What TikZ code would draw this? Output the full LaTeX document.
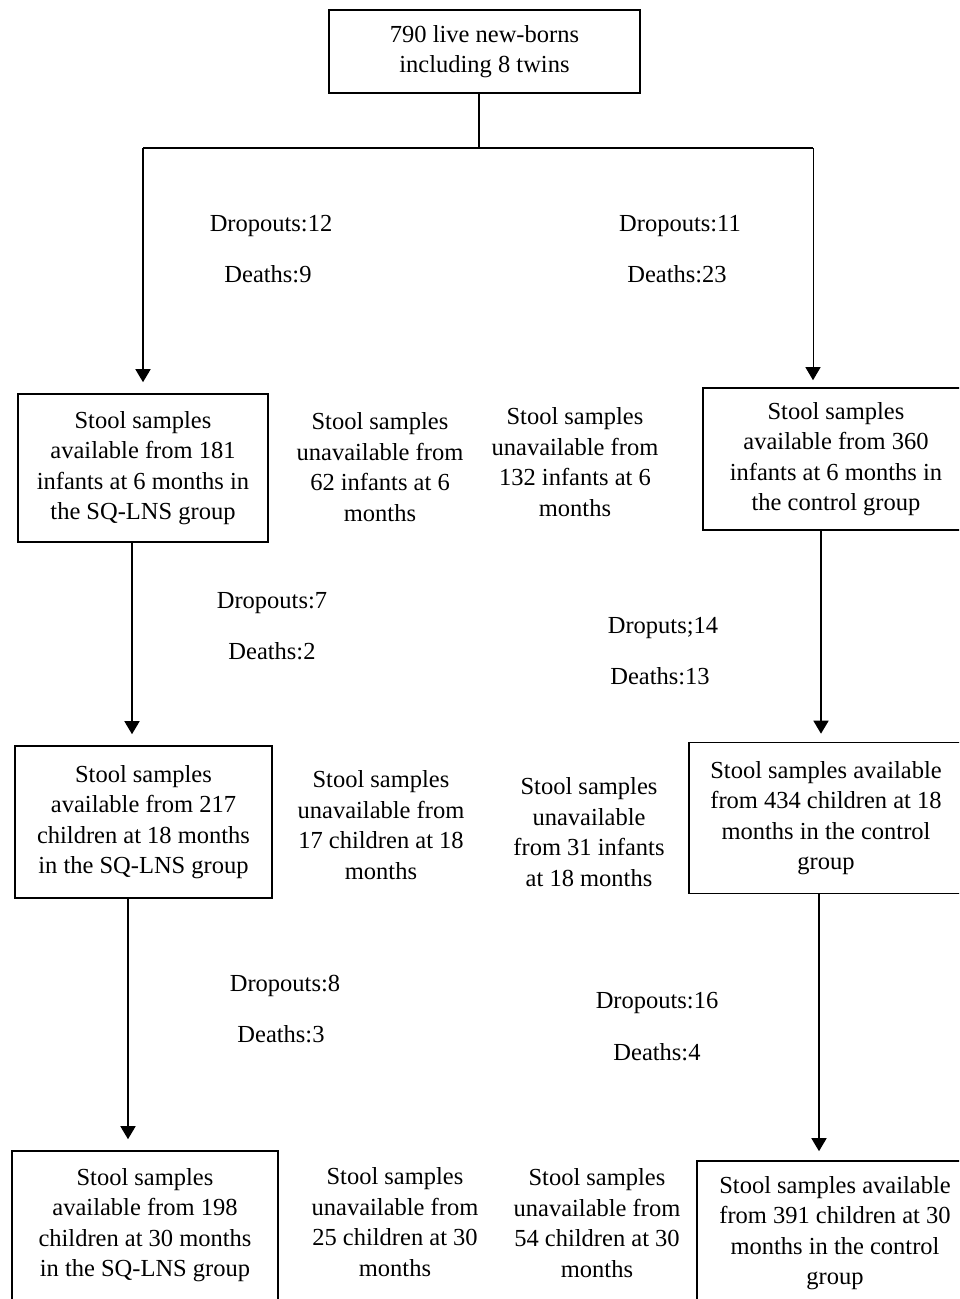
\documentclass[tikz,border=0pt]{standalone}
\usepackage{fontspec}
\setmainfont{Liberation Serif}
\usetikzlibrary{arrows.meta}
\begin{document}
\begin{tikzpicture}[x=1pt, y=-1pt,
    every node/.style={font=\fontsize{24.5}{30.5}\selectfont, inner sep=0pt, align=center},
    box/.style={draw, line width=1.6pt},
    link/.style={line width=1.6pt},
    flow/.style={line width=1.6pt, -{Triangle[width=15pt,length=13pt]}}]
    % --- 描画範囲 ---
    \useasboundingbox (0,0) rectangle (959,1299);
    \clip (0,0) rectangle (959,1299);

    % --- 枠付きのノード ---
    \node[box, minimum width=311pt, minimum height=83pt] (born) at (484.5,51.5) {790 live new-borns\\including 8 twins};
    \node[box, minimum width=250pt, minimum height=148pt] (sqA) at (143,468) {Stool samples\\available from 181\\infants at 6 months in\\the SQ-LNS group};
    \node[box, minimum width=266pt, minimum height=142pt] (ctA) at (836,459) {Stool samples\\available from 360\\infants at 6 months in\\the control group};
    \node[box, minimum width=257pt, minimum height=152pt] (sqB) at (143.5,822) {Stool samples\\available from 217\\children at 18 months\\in the SQ-LNS group};
    \node[box, minimum width=274pt, minimum height=151pt] (ctB) at (826,818) {Stool samples available\\from 434 children at 18\\months in the control\\group};
    \node[box, minimum width=266pt, minimum height=160pt, text depth=17pt] (sqC) at (145,1231) {Stool samples\\available from 198\\children at 30 months\\in the SQ-LNS group};
    \node[box, minimum width=276pt, minimum height=150pt, text depth=11pt] (ctC) at (835,1236) {Stool samples available\\from 391 children at 30\\months in the control\\group};

    % --- 枠なしのテキスト ---
    \node (missA) at (380,467) {Stool samples\\unavailable from\\62 infants at 6\\months};
    \node (lostA) at (575,462) {Stool samples\\unavailable from\\132 infants at 6\\months};
    \node (missB) at (381,825) {Stool samples\\unavailable from\\17 children at 18\\months};
    \node (lostB) at (589,832) {Stool samples\\unavailable\\from 31 infants\\at 18 months};
    \node (missC) at (395,1222) {Stool samples\\unavailable from\\25 children at 30\\months};
    \node (lostC) at (597,1223) {Stool samples\\unavailable from\\54 children at 30\\months};

    % 脱落と死亡の数
    \foreach \name/\x/\y/\label in {dropA/271/226/Dropouts:12, deadA/268/274/Deaths:9,
        dropD/680/226/Dropouts:11, deadD/677/274/Deaths:23,
        dropB/272/603/Dropouts:7, deadB/272/651/Deaths:2,
        dropE/663/628/Droputs;14, deadE/660/676/Deaths:13,
        dropC/285/986/Dropouts:8, deadC/281/1034/Deaths:3,
        dropF/657/1003/Dropouts:16, deadF/657/1052/Deaths:4} {
        \node (\name) at (\x,\y) {\label};
    }

    % --- 分岐線 ---
    \coordinate (split) at (479,148);
    \coordinate (splitL) at (143,148);
    \coordinate (splitR) at (813,148);
    \draw[link] (born.south -| split) -- (split);
    \draw[link] (splitL) -- (splitR);

    % --- 矢印 ---
    \draw[flow, shorten >=11pt] (splitL) -- (sqA.north);
    \draw[flow, line width=1pt, shorten >=7pt] (splitR) -- (splitR |- ctA.north);
    \draw[flow, shorten >=11pt] ([xshift=-11pt]sqA.south) -- ([xshift=-11.5pt]sqB.north);
    \draw[flow, shorten >=8pt] ([xshift=-15pt]ctA.south) -- ([xshift=-5pt]ctB.north);
    \draw[flow, shorten >=11pt] ([xshift=-15.5pt]sqB.south) -- ([xshift=-17pt]sqC.north);
    \draw[flow, shorten >=9pt] ([xshift=-7pt]ctB.south) -- ([xshift=-16pt]ctC.north);
\end{tikzpicture}
\end{document}
